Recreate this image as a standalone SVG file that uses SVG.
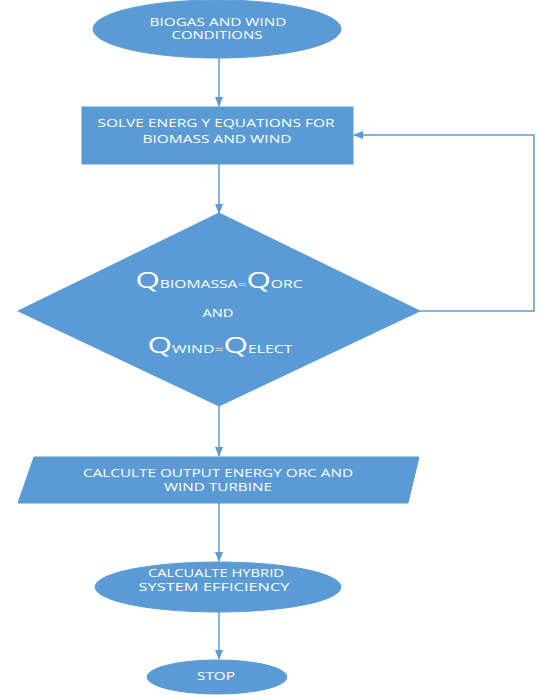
<svg xmlns="http://www.w3.org/2000/svg" width="543" height="695" viewBox="0 0 543 695">
<defs>
<style>
.s{fill:#5B9BD5;stroke:#5B9BD5;stroke-width:1}
.t{font-family:"Open Sans","Liberation Sans",sans-serif;font-size:10.5px;fill:#FFFFFF;text-anchor:middle}
.b{font-size:21px}
.c{fill:none;stroke:#5B9BD5;stroke-width:1.5}
</style>
<marker id="a" markerWidth="10" markerHeight="8" refX="9" refY="4" orient="auto" markerUnits="userSpaceOnUse">
<path d="M0,0 L10,4 L0,8 Z" fill="#5B9BD5"/>
</marker>
</defs>
<rect width="543" height="695" fill="#FFFFFF"/>
<g id="connectors">
<line class="c" x1="219" y1="58" x2="219" y2="106" marker-end="url(#a)"/>
<line class="c" x1="219" y1="164" x2="219" y2="213" marker-end="url(#a)"/>
<polyline class="c" points="420,311 534,311 534,135 354,135" marker-end="url(#a)"/>
<line class="c" x1="219" y1="406" x2="219" y2="456" marker-end="url(#a)"/>
<line class="c" x1="219" y1="503" x2="219" y2="561" marker-end="url(#a)"/>
<line class="c" x1="219" y1="612" x2="219" y2="659" marker-end="url(#a)"/>
</g>
<g id="start">
<ellipse class="s" cx="217" cy="29" rx="124" ry="29"/>
<text class="t" x="218" y="26" textLength="137" lengthAdjust="spacingAndGlyphs">BIOGAS AND WIND</text>
<text class="t" x="217" y="39" textLength="91" lengthAdjust="spacingAndGlyphs">CONDITIONS</text>
</g>
<g id="solve">
<rect class="s" x="82" y="107" width="271" height="57"/>
<text class="t" x="216" y="127" textLength="237" lengthAdjust="spacingAndGlyphs">SOLVE ENERG Y EQUATIONS FOR</text>
<text class="t" x="217" y="143" textLength="149" lengthAdjust="spacingAndGlyphs">BIOMASS AND WIND</text>
</g>
<g id="decision">
<polygon class="s" points="219,213 420,311 219,406 18,311"/>
<text class="t" x="219" y="288" textLength="167" lengthAdjust="spacingAndGlyphs"><tspan class="b">Q</tspan>BIOMASSA=<tspan class="b">Q</tspan>ORC</text>
<text class="t" x="218" y="317" textLength="31" lengthAdjust="spacingAndGlyphs">AND</text>
<text class="t" x="220" y="353" textLength="145" lengthAdjust="spacingAndGlyphs"><tspan class="b">Q</tspan>WIND=<tspan class="b">Q</tspan>ELECT</text>
</g>
<g id="output">
<polygon class="s" points="34,457 419,457 408,503 18,503"/>
<text class="t" x="218" y="477" textLength="270" lengthAdjust="spacingAndGlyphs">CALCULTE OUTPUT ENERGY ORC AND</text>
<text class="t" x="218" y="491" textLength="108" lengthAdjust="spacingAndGlyphs">WIND TURBINE</text>
</g>
<g id="efficiency">
<ellipse class="s" cx="218" cy="587" rx="123" ry="25"/>
<text class="t" x="216" y="577" textLength="136" lengthAdjust="spacingAndGlyphs">CALCUALTE HYBRID</text>
<text class="t" x="214" y="591" textLength="151" lengthAdjust="spacingAndGlyphs">SYSTEM EFFICIENCY</text>
</g>
<g id="stop">
<ellipse class="s" cx="217" cy="677" rx="70" ry="17"/>
<text class="t" x="216" y="680" textLength="38" lengthAdjust="spacingAndGlyphs">STOP</text>
</g>
</svg>
